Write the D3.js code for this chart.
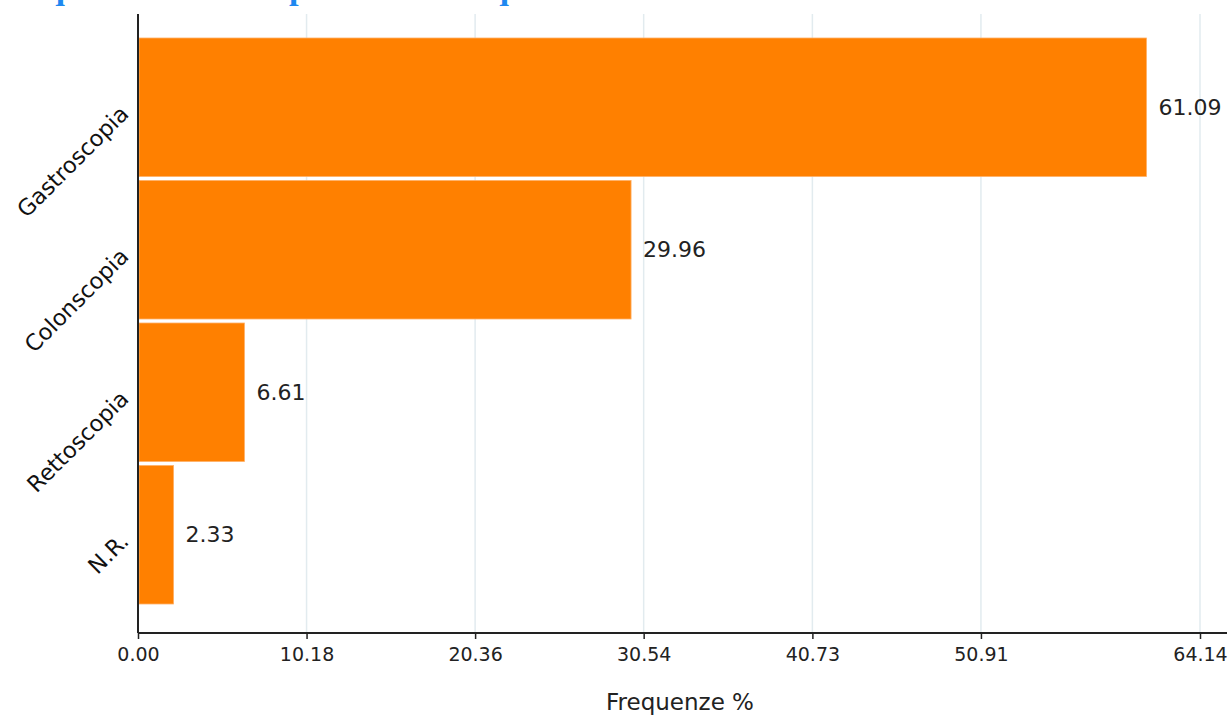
<!DOCTYPE html>
<html><head><meta charset="utf-8">
<script src="https://cdn.jsdelivr.net/npm/d3@7"></script>
<style>html,body{margin:0;padding:0;background:#fff;overflow:hidden}</style>
</head><body>
<svg id="chart" width="1229" height="718"></svg>
<script>
const title = "Per quale esame si è presentato in questo servizio?";
const categories = ["Gastroscopia", "Colonscopia", "Rettoscopia", "N.R."];
const values = [61.09, 29.96, 6.61, 2.33];
const tickValues = [0, 10.18, 20.36, 30.54, 40.73, 50.91, 64.14];
const tickLabels = ["0.00", "10.18", "20.36", "30.54", "40.73", "50.91", "64.14"];
const xTitle = "Frequenze %";

const svg = d3.select("#chart");
const plotLeft = 138, plotRight = 1200, axisEnd = 1227, plotTop = 14, axisY = 633;

const x = d3.scaleLinear().domain([0, 64.14]).range([plotLeft, plotRight]);
const y = d3.scaleBand().domain(categories).range([36, 606]).padding(0);

// title (cut off at the top edge, as in the reference)
svg.append("text").attr("x", -14).attr("y", -1.5)
  .attr("font-family", "Liberation Serif").attr("font-weight", "bold")
  .attr("font-size", 34.5).attr("fill", "#1E88F0").text(title);

// gridlines
svg.append("g").selectAll("line").data(tickValues.slice(1)).join("line")
  .attr("x1", d => x(d)).attr("x2", d => x(d))
  .attr("y1", plotTop).attr("y2", axisY)
  .attr("stroke", "#e2ebef").attr("stroke-width", 1.5);

// bars
svg.append("g").selectAll("rect").data(categories).join("rect")
  .attr("x", x(0) + 1)
  .attr("y", d => y(d) + 2)
  .attr("width", (d, i) => x(values[i]) - x(0) - 4)
  .attr("height", y.bandwidth() - 4)
  .attr("fill", "#FF8000")
  .attr("stroke", "#ffb066").attr("stroke-width", 0.8);

// value labels
svg.append("g").selectAll("text").data(categories).join("text")
  .attr("x", (d, i) => x(values[i]) + 9)
  .attr("y", d => y(d) + y.bandwidth() / 2)
  .attr("dy", "0.35em")
  .attr("font-family", "DejaVu Sans").attr("font-size", 22)
  .attr("fill", "#222").text((d, i) => values[i].toFixed(2));

// category labels
svg.append("g").selectAll("text").data(categories).join("text")
  .attr("transform", d => `translate(130,${y(d) + y.bandwidth() / 2 + 8}) rotate(-45)`)
  .attr("text-anchor", "end")
  .attr("font-family", "DejaVu Sans").attr("font-size", 22.5)
  .attr("fill", "#111").text(d => d);

// x axis
const xAxis = d3.axisBottom(x).tickValues(tickValues)
  .tickFormat((d, i) => tickLabels[i]).tickSize(6).tickSizeOuter(0);
const gx = svg.append("g").attr("transform", `translate(0,${axisY})`).call(xAxis);
gx.select(".domain").attr("d", `M${plotLeft},0H${axisEnd}`).attr("stroke", "#222").attr("stroke-width", 2);
gx.selectAll(".tick line").attr("stroke", "#222").attr("stroke-width", 1.5);
gx.selectAll(".tick text").attr("font-family", "DejaVu Sans").attr("font-size", 19)
  .attr("fill", "#222").attr("dy", "1.0em");

// y axis line
svg.append("line").attr("x1", plotLeft).attr("x2", plotLeft).attr("y1", plotTop).attr("y2", axisY)
  .attr("stroke", "#222").attr("stroke-width", 2);

// x title
svg.append("text").attr("x", (plotLeft + plotRight) / 2 + 11).attr("y", 710)
  .attr("text-anchor", "middle").attr("font-family", "DejaVu Sans").attr("font-size", 23)
  .attr("fill", "#222").text(xTitle);
</script>
</body></html>
